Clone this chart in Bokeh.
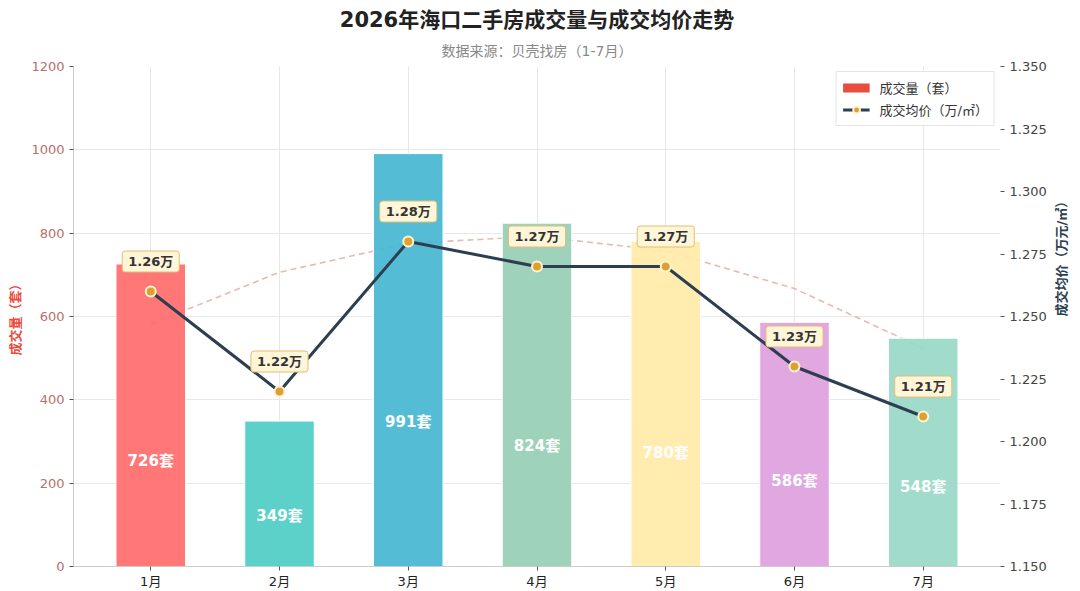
import math
from bokeh.plotting import figure
from bokeh.models import (ColumnDataSource, Range1d, LinearAxis, FixedTicker, Title,
                          Legend, LegendItem, PrintfTickFormatter)
from bokeh.core.properties import value
from bokeh.embed import file_html
from bokeh.resources import INLINE

# ---------------- data ----------------
months = ["1月", "2月", "3月", "4月", "5月", "6月", "7月"]
volumes = [726, 349, 991, 824, 780, 586, 548]
prices = [1.26, 1.22, 1.28, 1.27, 1.27, 1.23, 1.21]
trend = [582, 706, 776, 792, 758, 667, 524]
bar_colors = ["#FF6B6B", "#4ECDC4", "#45B7D1", "#96CEB4", "#FFEAA7", "#DDA0DD", "#98D8C8"]
vol_ticks = [0, 200, 400, 600, 800, 1000, 1200]
price_ticks = [1.150, 1.175, 1.200, 1.225, 1.250, 1.275, 1.300, 1.325, 1.350]

title_text = "2026年海口二手房成交量与成交均价走势"
subtitle_text = "数据来源：贝壳找房（1-7月）"

FONT = "DejaVu Sans, Noto Sans CJK SC"

xs = list(range(len(months)))
src = ColumnDataSource(dict(
    x=xs, vol=volumes, price=prices, trend=trend, color=bar_colors,
    vol_label=[f"{v}套" for v in volumes],
    vol_pos=[v * 0.35 for v in volumes],
    price_label=[f"{p:.2f}万" for p in prices],
))

p = figure(width=1080, height=591, x_range=Range1d(-0.6, 6.6), y_range=Range1d(0, 1200),
           output_backend="svg", toolbar_location=None,
           min_border_left=73, min_border_right=80, min_border_top=66, min_border_bottom=0,
           background_fill_color="white", border_fill_color="white", outline_line_color=None)
p.extra_y_ranges = {"price": Range1d(1.15, 1.35)}

# grids
p.xgrid.ticker = FixedTicker(ticks=xs)
p.ygrid.ticker = FixedTicker(ticks=vol_ticks)
p.xgrid.grid_line_color = "#E8E8E8"
p.ygrid.grid_line_color = "#E8E8E8"

# left axis
yl = p.yaxis[0]
yl.ticker = FixedTicker(ticks=vol_ticks)
yl.axis_label = "成交量（套）"
yl.axis_label_text_color = "#E74C3C"
yl.axis_label_text_font_style = "bold"
yl.axis_label_text_font_size = "13px"
yl.axis_label_text_font = FONT
yl.axis_label_standoff = 5
yl.major_label_text_color = "#B9706A"
yl.major_label_text_font_size = "13px"
yl.major_label_text_font = FONT
yl.axis_line_color = "#CCCCCC"
yl.major_tick_line_color = "#555555"
yl.major_tick_out = 4
yl.major_tick_in = 0
yl.minor_tick_line_color = None

# bottom axis
xa = p.xaxis[0]
xa.ticker = FixedTicker(ticks=xs)
xa.major_label_overrides = {i: m for i, m in zip(xs, months)}
xa.major_label_text_font_size = "13px"
xa.major_label_text_font = FONT
xa.major_label_text_color = "#222222"
xa.major_label_standoff = 3
xa.axis_line_color = "#CCCCCC"
xa.major_tick_line_color = "#555555"
xa.major_tick_out = 4
xa.major_tick_in = 0
xa.minor_tick_line_color = None

# right axis
ra = LinearAxis(y_range_name="price", ticker=FixedTicker(ticks=price_ticks),
                formatter=PrintfTickFormatter(format="%.3f"))
ra.axis_label = "成交均价（万元/㎡）"
ra.axis_label_orientation = math.pi / 2
ra.axis_label_text_color = "#2C3E50"
ra.axis_label_text_font_style = "bold"
ra.axis_label_text_font_size = "13px"
ra.axis_label_text_font = FONT
ra.axis_label_standoff = 12
ra.major_label_text_color = "#444444"
ra.major_label_text_font_size = "13px"
ra.major_label_text_font = FONT
ra.major_label_standoff = 5
ra.axis_line_color = None
ra.major_tick_line_color = "#555555"
ra.major_tick_out = 4
ra.major_tick_in = 0
ra.minor_tick_line_color = None
p.add_layout(ra, "right")

# trend (dashed, behind bars)
p.line(x="x", y="trend", source=src, line_color="#E2B3A8", line_width=1.6,
       line_dash="6 4", line_alpha=0.9)

# bars
p.vbar(x="x", top="vol", width=0.54, source=src, fill_color="color", fill_alpha=0.92,
       line_color="white", line_width=1)

# bar value labels
p.text(x="x", y="vol_pos", text="vol_label", source=src, text_align="center",
       text_baseline="middle", text_color="white", text_font=value(FONT),
       text_font_style="bold", text_font_size="15px")

# price line
price_line = p.line(x="x", y="price", source=src, y_range_name="price",
                    line_color="#2C3E50", line_width=3)
price_pts = p.scatter(x="x", y="price", source=src, y_range_name="price", size=10,
                      fill_color="#DDA033", line_color="#FFF3D0", line_width=2)

# price labels
p.text(x="x", y="price", text="price_label", source=src, y_range_name="price",
       y_offset=-30, text_align="center", text_baseline="middle", text_color="#333333",
       text_font=value(FONT), text_font_style="bold", text_font_size="13px",
       background_fill_color="#FFF5D8", border_line_color="#E3BE70", border_line_width=1,
       padding=(6, 3), border_radius=3)

# legend (dummy single-point line renderer draws nothing on the plot)
legend_bar = p.line(x=[0], y=[0], line_color="#E74C3C", line_width=9, line_cap="butt")
legend = Legend(items=[LegendItem(label="成交量（套）", renderers=[legend_bar]),
                       LegendItem(label="成交均价（万/㎡）", renderers=[price_line, price_pts])],
                location="top_right", margin=5, padding=6, spacing=3,
                glyph_width=27, glyph_height=17, label_height=17, label_standoff=10,
                label_text_font=FONT, label_text_font_size="13px", label_text_color="#333333",
                label_text_baseline="middle",
                border_line_color="#CCCCCC", background_fill_color="white",
                background_fill_alpha=0.95)
p.add_layout(legend)

# title & subtitle (subtitle nearest the frame)
p.add_layout(Title(text=subtitle_text, align="center", vertical_align="middle",
                   text_font=FONT, text_font_size="14px", text_font_style="normal",
                   text_color="#888888", standoff=14), "above")
p.add_layout(Title(text=title_text, align="center", vertical_align="middle",
                   text_font=FONT, text_font_size="21px", text_font_style="bold",
                   text_color="#222222", standoff=3), "above")

open("out.html", "w").write(file_html(p, INLINE))
